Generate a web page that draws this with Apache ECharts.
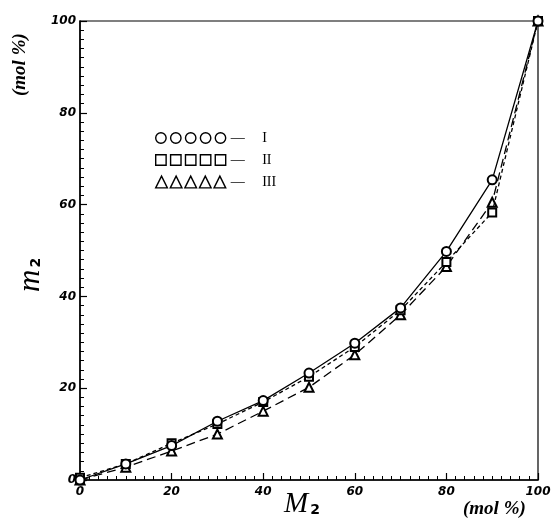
<!DOCTYPE html>
<html lang="en">
<head>
    <meta charset="UTF-8">
    <title>m2 vs M2</title>
    <script src="https://cdn.jsdelivr.net/npm/echarts@6/dist/echarts.min.js"></script>
</head>
<style>
    *{
        margin: 0;
        padding: 0;
    }
    html,body{
        width: 100%;
        height: 100%;
        overflow: hidden;
        background: #fff;
    }
    .container{
        width: 555px;
        height: 527px;
    }
</style>
<body>
<div class="container"></div>
<script>
    // M2 feed (mol %) and m2 copolymer (mol %) for the three series
    let feed = [0, 10, 20, 30, 40, 50, 60, 70, 80, 90, 100];
    let seriesI   = [0, 3.5, 7.5, 12.8, 17.3, 23.3, 29.8, 37.5, 49.8, 65.4, 100];
    let seriesII  = [0.5, 3.5, 8, 12.2, 17, 22.5, 29, 37, 47.5, 58.3, 100];
    let seriesIII = [0, 2.8, 6.3, 10, 15, 20.2, 27.3, 36, 46.5, 60.5, 100];
    let names = ['I', 'II', 'III'];

    let container = document.querySelector('.container');
    let mycharts = echarts.init(container);

    // legend icons: five symbols in a row
    let rings = '', boxes = '', tents = '';
    for (let i = 0; i < 5; i++) {
        let c = 10 + i * 20;
        rings += 'M' + (c - 7) + ',10a7,7 0 1,0 14,0a7,7 0 1,0 -14,0';
        boxes += 'M' + (c - 7) + ',3h14v14h-14z';
        tents += 'M' + c + ',2L' + (c + 8) + ',18L' + (c - 8) + ',18z';
    }
    let icons = ['path://' + rings, 'path://' + boxes, 'path://' + tents];
    let symbols = ['emptyCircle', 'emptyRect', 'emptyTriangle'];
    let dashes = ['solid', [4, 3], [9, 5]];
    let values = [seriesI, seriesII, seriesIII];

    let series = names.map((name, k) => ({
        name: name,
        type: 'line',
        data: feed.map((x, i) => [x, values[k][i]]),
        symbol: symbols[k],
        symbolSize: k == 1 ? 8 : 9,
        lineStyle: {color: '#000', width: 1.3, type: dashes[k]},
        itemStyle: {color: '#000', borderColor: '#000', borderWidth: 1.6},
        z: 3 - k
    }));

    let axisCommon = {
        type: 'value',
        min: 0,
        max: 100,
        interval: 20,
        axisLine: {lineStyle: {color: '#000', width: 1.5}},
        axisTick: {inside: true, length: 7, lineStyle: {color: '#000', width: 1.2}},
        minorTick: {show: true, splitNumber: 10, length: 4, lineStyle: {color: '#000', width: 1}},
        splitLine: {show: false},
        axisLabel: {
            color: '#000',
            fontFamily: 'DejaVu Sans',
            fontStyle: 'italic',
            fontWeight: 'bold',
            fontSize: 12,
            showMinLabel: true,
            showMaxLabel: true
        }
    };

    let serif = 'Liberation Serif';

    option = {
        backgroundColor: '#fff',
        animation: false,
        grid: {
            left: 80, right: 17, top: 21, bottom: 47,
            show: true, borderColor: '#000', borderWidth: 1.2
        },
        xAxis: Object.assign({}, axisCommon, {
            axisLabel: Object.assign({}, axisCommon.axisLabel, {margin: 6})
        }),
        yAxis: Object.assign({}, axisCommon, {
            axisLabel: Object.assign({}, axisCommon.axisLabel, {margin: 4})
        }),
        legend: {
            orient: 'vertical',
            left: 150,
            top: 126,
            itemGap: 8,
            itemWidth: 70,
            itemHeight: 13,
            data: names.map((n, k) => ({
                name: n,
                icon: icons[k],
                itemStyle: {color: '#fff', borderColor: '#000', borderWidth: 1.4}
            })),
            formatter: n => '\u2014     ' + n,
            textStyle: {color: '#000', fontFamily: serif, fontSize: 14},
            selectedMode: false
        },
        graphic: [
            {
                type: 'text', left: 284, top: 490,
                style: {
                    text: '{m|M}{s|2}',
                    rich: {
                        m: {fontFamily: serif, fontStyle: 'italic', fontSize: 29, fill: '#000'},
                        s: {fontFamily: 'DejaVu Sans', fontWeight: 'bold', fontSize: 14, fill: '#000', padding: [12, 0, 0, 2]}
                    }
                }
            },
            {
                type: 'text', left: 463, top: 500,
                style: {text: '(mol %)', fontFamily: serif, fontStyle: 'italic', fontWeight: 'bold', fontSize: 19, fill: '#000'}
            },
            {
                type: 'text', x: 15, y: 292, rotation: Math.PI / 2,
                style: {
                    text: '{m|m}{s|2}',
                    rich: {
                        m: {fontFamily: serif, fontStyle: 'italic', fontSize: 31, fill: '#000'},
                        s: {fontFamily: 'DejaVu Sans', fontWeight: 'bold', fontSize: 14, fill: '#000', padding: [12, 0, 0, 2]}
                    }
                }
            },
            {
                type: 'text', x: 11, y: 96, rotation: Math.PI / 2,
                style: {text: '(mol %)', fontFamily: serif, fontStyle: 'italic', fontWeight: 'bold', fontSize: 19, fill: '#000'}
            }
        ],
        series
    };

    mycharts.setOption(option);
</script>
</body>
</html>
